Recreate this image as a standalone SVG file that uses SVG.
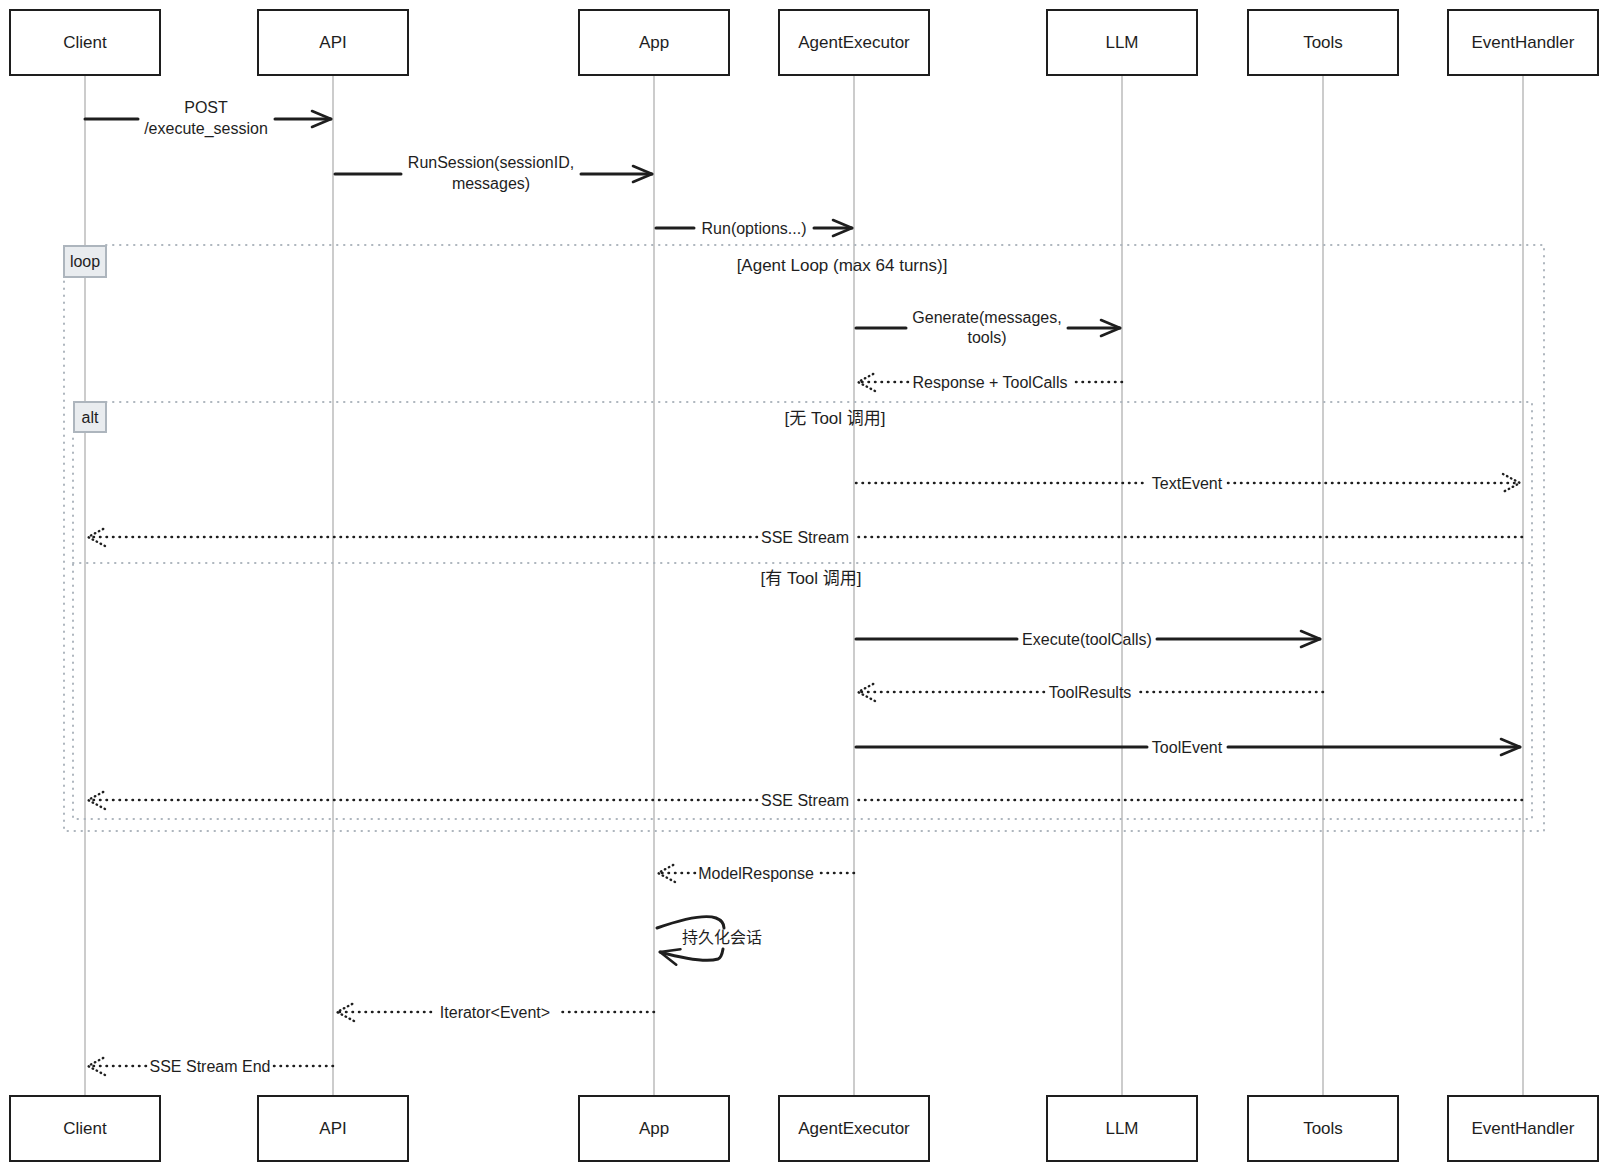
<svg xmlns="http://www.w3.org/2000/svg" width="1608" height="1171" viewBox="0 0 1608 1171">
<defs>
<marker id="arr" markerUnits="userSpaceOnUse" viewBox="0 0 24 20" refX="22" refY="10" markerWidth="24" markerHeight="20" orient="auto" overflow="visible">
<path d="M3,2 L22,10 L3,18" fill="none" stroke="#1e1e1e" stroke-width="2.6" stroke-linecap="round" stroke-linejoin="round"/>
</marker>
<marker id="arrd" markerUnits="userSpaceOnUse" viewBox="0 0 24 20" refX="22" refY="10" markerWidth="24" markerHeight="20" orient="auto" overflow="visible">
<path d="M5,1 L22,10 L5,19" fill="none" stroke="#1e1e1e" stroke-width="2.4" stroke-dasharray="0.5 4" stroke-linecap="round" stroke-linejoin="round"/>
</marker>
</defs>
<style>
.box{fill:#fff;stroke:#1e1e1e;stroke-width:2}
.life{stroke:#aaaaaa;stroke-width:1.2}
.frame{fill:none;stroke:#adb5bd;stroke-width:2;stroke-dasharray:0.5 6.5;stroke-linecap:round}
.flabel{fill:#e9ecef;stroke:#adb5bd;stroke-width:2}
.solid{fill:none;stroke:#1e1e1e;stroke-width:3;stroke-linecap:round}
.dot{fill:none;stroke:#1e1e1e;stroke-width:2.5;stroke-dasharray:0.5 6;stroke-linecap:round}
.sa{marker-end:url(#arr)}
.da{marker-end:url(#arrd)}
text{font-family:"Liberation Sans","Noto Sans CJK SC",sans-serif;fill:#1e1e1e;text-anchor:middle}
.p{font-size:17px}
.m{font-size:16px}
.t{font-size:17px}
</style>
<rect width="1608" height="1171" fill="#ffffff"/>
<g id="lifelines">
<line class="life" x1="85" y1="75" x2="85" y2="1096"/>
<line class="life" x1="333" y1="75" x2="333" y2="1096"/>
<line class="life" x1="654" y1="75" x2="654" y2="1096"/>
<line class="life" x1="854" y1="75" x2="854" y2="1096"/>
<line class="life" x1="1122" y1="75" x2="1122" y2="1096"/>
<line class="life" x1="1323" y1="75" x2="1323" y2="1096"/>
<line class="life" x1="1523" y1="75" x2="1523" y2="1096"/>
</g>
<g id="frame-loop">
<path class="frame" d="M106,245 H1544 V831 H64 V277"/>
<rect class="flabel" x="64" y="246" width="42" height="31"/>
<text class="m" x="85" y="267">loop</text>
<text class="t" x="842" y="271">[Agent Loop (max 64 turns)]</text>
</g>
<g id="frame-alt">
<path class="frame" d="M106,402 H1532 V819 H73 V432"/>
<path class="frame" d="M73,563 H1532"/>
<rect class="flabel" x="74" y="402" width="32" height="30"/>
<text class="m" x="90" y="423">alt</text>
<text class="t" x="835" y="424">[无 Tool 调用]</text>
<text class="t" x="811" y="584">[有 Tool 调用]</text>
</g>
<g id="p-client-top"><rect class="box" x="10" y="10" width="150" height="65"/><text class="p" x="85" y="48">Client</text></g>
<g id="p-api-top"><rect class="box" x="258" y="10" width="150" height="65"/><text class="p" x="333" y="48">API</text></g>
<g id="p-app-top"><rect class="box" x="579" y="10" width="150" height="65"/><text class="p" x="654" y="48">App</text></g>
<g id="p-agentexecutor-top"><rect class="box" x="779" y="10" width="150" height="65"/><text class="p" x="854" y="48">AgentExecutor</text></g>
<g id="p-llm-top"><rect class="box" x="1047" y="10" width="150" height="65"/><text class="p" x="1122" y="48">LLM</text></g>
<g id="p-tools-top"><rect class="box" x="1248" y="10" width="150" height="65"/><text class="p" x="1323" y="48">Tools</text></g>
<g id="p-eventhandler-top"><rect class="box" x="1448" y="10" width="150" height="65"/><text class="p" x="1523" y="48">EventHandler</text></g>
<g id="p-client-bottom"><rect class="box" x="10" y="1096" width="150" height="65"/><text class="p" x="85" y="1134">Client</text></g>
<g id="p-api-bottom"><rect class="box" x="258" y="1096" width="150" height="65"/><text class="p" x="333" y="1134">API</text></g>
<g id="p-app-bottom"><rect class="box" x="579" y="1096" width="150" height="65"/><text class="p" x="654" y="1134">App</text></g>
<g id="p-agentexecutor-bottom"><rect class="box" x="779" y="1096" width="150" height="65"/><text class="p" x="854" y="1134">AgentExecutor</text></g>
<g id="p-llm-bottom"><rect class="box" x="1047" y="1096" width="150" height="65"/><text class="p" x="1122" y="1134">LLM</text></g>
<g id="p-tools-bottom"><rect class="box" x="1248" y="1096" width="150" height="65"/><text class="p" x="1323" y="1134">Tools</text></g>
<g id="p-eventhandler-bottom"><rect class="box" x="1448" y="1096" width="150" height="65"/><text class="p" x="1523" y="1134">EventHandler</text></g>
<g id="connectors">
<g id="m1"><path class="solid" d="M85,119 H138"/><path class="solid sa" d="M275,119 H331"/><text class="m" x="206" y="113">POST</text><text class="m" x="206" y="134">/execute_session</text></g>
<g id="m2"><path class="solid" d="M335,174 H401"/><path class="solid sa" d="M581,174 H652"/><text class="m" x="491" y="168">RunSession(sessionID,</text><text class="m" x="491" y="189">messages)</text></g>
<g id="m3"><path class="solid" d="M656,228 H694"/><path class="solid sa" d="M814,228 H852"/><text class="m" x="754" y="234">Run(options...)</text></g>
<g id="m4"><path class="solid" d="M856,328 H906"/><path class="solid sa" d="M1068,328 H1120"/><text class="m" x="987" y="323">Generate(messages,</text><text class="m" x="987" y="343">tools)</text></g>
<g id="m5"><path class="dot" d="M1122,382 H1072"/><path class="dot da" d="M908,382 H858"/><text class="m" x="990" y="388">Response + ToolCalls</text></g>
<g id="m6"><path class="dot" d="M856,483 H1147"/><path class="dot da" d="M1228,483 H1520"/><text class="m" x="1187" y="489">TextEvent</text></g>
<g id="m7"><path class="dot" d="M1522,537 H853"/><path class="dot da" d="M757,537 H88"/><text class="m" x="805" y="543">SSE Stream</text></g>
<g id="m8"><path class="solid" d="M856,639 H1017"/><path class="solid sa" d="M1157,639 H1320"/><text class="m" x="1087" y="645">Execute(toolCalls)</text></g>
<g id="m9"><path class="dot" d="M1323,692 H1136"/><path class="dot da" d="M1044,692 H858"/><text class="m" x="1090" y="698">ToolResults</text></g>
<g id="m10"><path class="solid" d="M856,747 H1147"/><path class="solid sa" d="M1228,747 H1520"/><text class="m" x="1187" y="753">ToolEvent</text></g>
<g id="m11"><path class="dot" d="M1522,800 H853"/><path class="dot da" d="M757,800 H88"/><text class="m" x="805" y="806">SSE Stream</text></g>
<g id="m12"><path class="dot" d="M854,873 H817"/><path class="dot da" d="M695,873 H658"/><text class="m" x="756" y="879">ModelResponse</text></g>
<g id="m13"><path class="solid" d="M657,928 C680,920 705,914 716,918 C721,920 724,924 724,928"/><path class="solid sa" d="M723,949 C722,955 721,958 718,959 C705,963 682,958 660,952"/><text class="m" x="722" y="943">持久化会话</text></g>
<g id="m14"><path class="dot" d="M654,1012 H559"/><path class="dot da" d="M431,1012 H337"/><text class="m" x="495" y="1018">Iterator&lt;Event&gt;</text></g>
<g id="m15"><path class="dot" d="M333,1066 H274"/><path class="dot da" d="M146,1066 H88"/><text class="m" x="210" y="1072">SSE Stream End</text></g>
</g>
</svg>
